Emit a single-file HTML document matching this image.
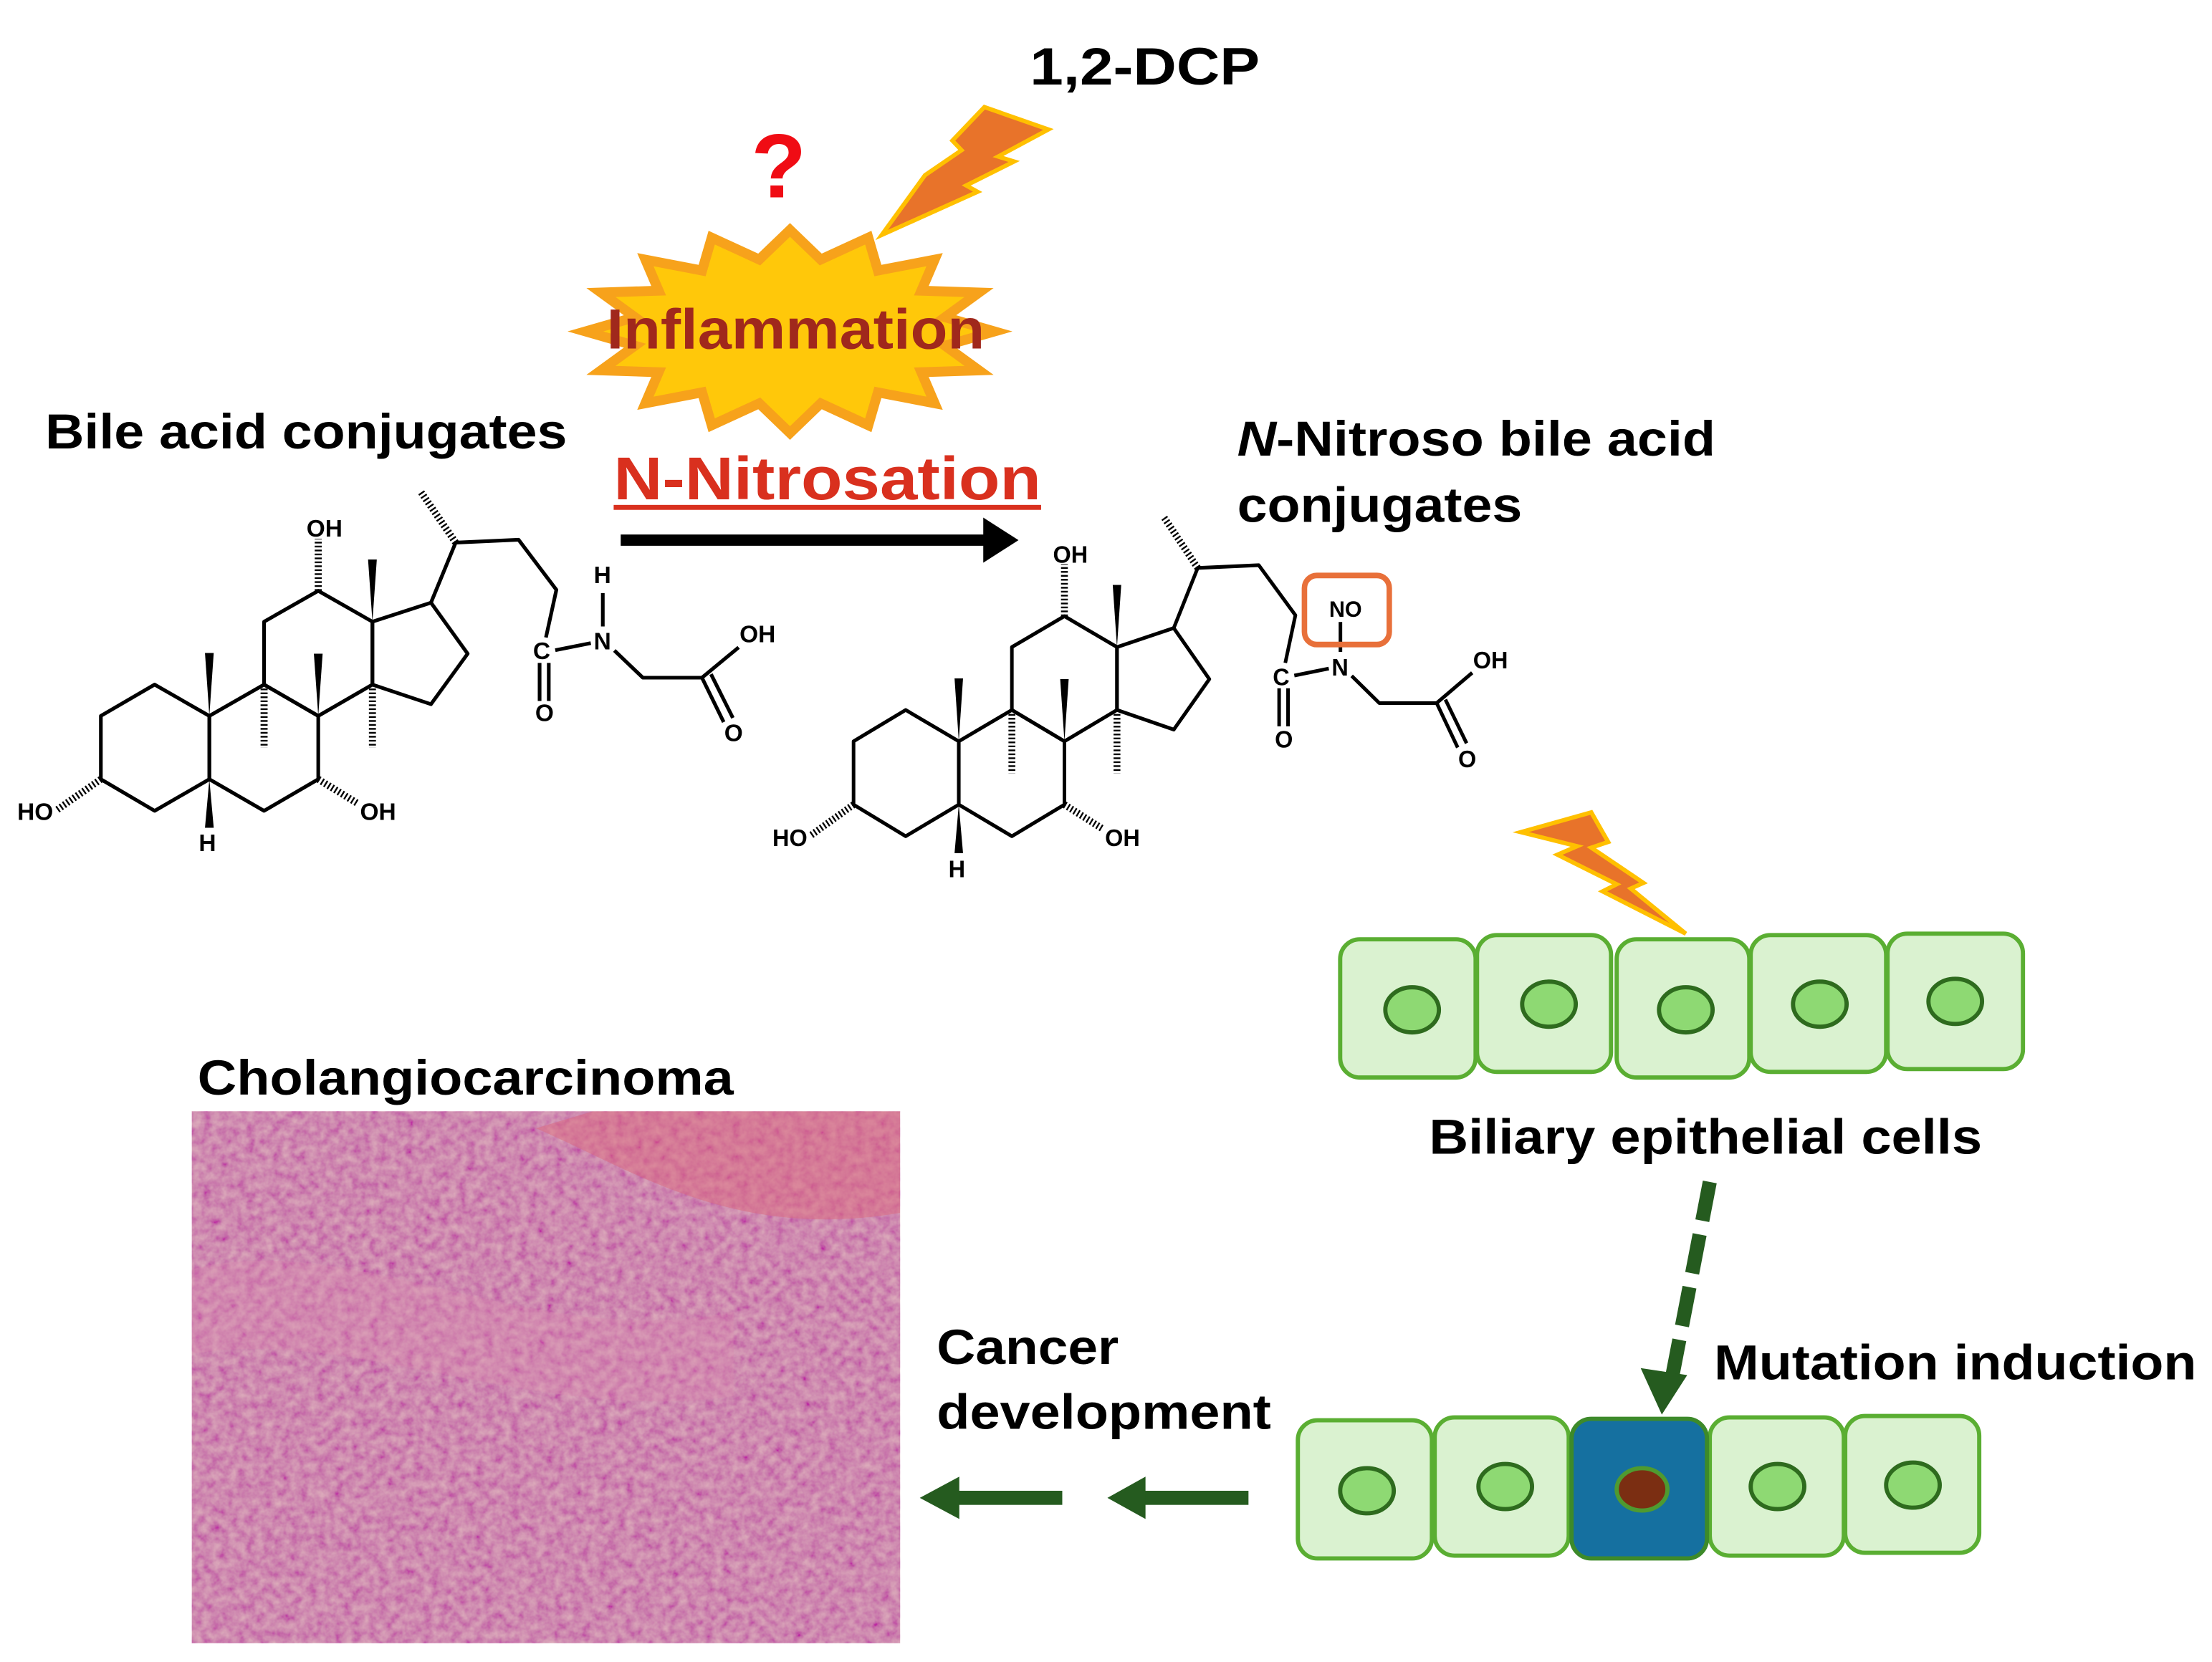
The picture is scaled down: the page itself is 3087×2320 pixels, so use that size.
<!DOCTYPE html>
<html><head><meta charset="utf-8"><style>
html,body{margin:0;padding:0;background:#fff}
svg{display:block}
text{font-family:"Liberation Sans",Arial,sans-serif;font-weight:bold}
</style></head><body>
<svg width="3087" height="2320" viewBox="0 0 1568 1178.4" xmlns="http://www.w3.org/2000/svg">
<defs>
<filter id="h" x="0" y="0" width="100%" height="100%">
<feTurbulence type="fractalNoise" baseFrequency="0.16" numOctaves="3" seed="5"/>
<feColorMatrix values="0.5 0 0 0 0.5  1.0 0 0 0 -0.1  0.35 0 0 0 0.42  0 0 0 0 1"/>
</filter>
<g id="mol">
<g fill="none" stroke="#000" stroke-width="2.6" stroke-linejoin="round">
<polygon points="71.5,507.6 109.6,485.4 148.4,507.6 148.4,552.5 109.6,574.9 71.5,552.5"/>
<polygon points="148.4,507.6 187.2,485.4 225.6,507.6 225.6,552.5 187.2,574.9 148.4,552.5"/>
<polygon points="187.2,485.4 187.2,440.8 225.6,418.9 264,440.8 264,485.4 225.6,507.6"/>
<polygon points="264,440.8 305.5,427.3 331.5,463.5 305.5,499.3 264,485.4"/>
<polyline points="305.5,427.3 323,384.7 367.6,382.7 394.4,418.2 387,452"/>
<line x1="393.6" y1="461" x2="418.8" y2="456"/>
<line x1="382.5" y1="470" x2="382.5" y2="497"/>
<line x1="389" y1="470" x2="389" y2="497"/>
<polyline points="435.5,461.2 455.7,480.5 497.6,480.5 523.6,459"/>
<line x1="497.6" y1="480.5" x2="513" y2="512"/>
<line x1="504" y1="478" x2="519.5" y2="509"/>
</g>
<g fill="#000">
<polygon points="148.4,507.6 145.3,463 151.5,463"/>
<polygon points="225.6,507.6 222.5,463.5 228.7,463.5"/>
<polygon points="264,440.8 260.9,396.7 267.1,396.7"/>
<polygon points="148.4,552.5 145.3,586.9 151.5,586.9"/>
</g>
<g stroke="#000" stroke-width="5" stroke-dasharray="1.2 1.6" fill="none">
<line x1="225.6" y1="418.9" x2="225.6" y2="382"/>
<line x1="187.2" y1="485.4" x2="187.2" y2="530.3"/>
<line x1="264" y1="485.4" x2="264" y2="530.3"/>
<line x1="71.5" y1="552.5" x2="40" y2="574.5"/>
<line x1="225.6" y1="552.5" x2="254" y2="570"/>
<line x1="323" y1="384.7" x2="298.5" y2="349"/>
</g>
<g font-size="17" text-anchor="middle" dominant-baseline="central">
<text x="230" y="375">OH</text>
<text x="384" y="462">C</text>
<text x="386" y="506">O</text>
<text x="427" y="455">N</text>
<text x="537" y="450">OH</text>
<text x="520" y="520">O</text>
<text x="25" y="576">HO</text>
<text x="147" y="598">H</text>
<text x="268" y="576">OH</text>
</g>
</g>
</defs>

<!-- molecule 1 -->
<use href="#mol"/>
<line x1="427.3" y1="420.5" x2="427.3" y2="444.2" stroke="#000" stroke-width="2.6"/>
<text x="427" y="408" font-size="17" text-anchor="middle" dominant-baseline="central">H</text>

<!-- molecule 2 -->
<g transform="translate(535.7,18) scale(0.97,1)">
<use href="#mol"/>
<line x1="427.3" y1="423" x2="427.3" y2="444.2" stroke="#000" stroke-width="2.6"/>
<rect x="401" y="390" width="62" height="49" rx="9" fill="none" stroke="#E8703A" stroke-width="4"/>
<text x="431" y="414" font-size="16" text-anchor="middle" dominant-baseline="central">NO</text>
</g>

<!-- titles -->
<text x="730" y="60" font-size="37" textLength="163" lengthAdjust="spacingAndGlyphs">1,2-DCP</text>
<text x="552" y="140" font-size="64" fill="#F00C14" text-anchor="middle">?</text>
<polygon points="697.8,75.9 743.2,91.8 707.5,111 718.9,114.5 684.9,131.5 693,136 625,166.6 655.7,124.2 681.6,106.5 675.1,99.7" fill="#E8732A" stroke="#FFC000" stroke-width="3" stroke-linejoin="miter"/>

<polygon fill="#FFC80A" stroke="#F7A21B" stroke-width="7" stroke-linejoin="miter" points="705,235 669.9,245.1 694,262.6 653.1,263.9 662.5,285.9 622.3,278.2 615.5,301.5 581.8,286 560,307 538.2,286 504.5,301.5 497.7,278.2 457.5,285.9 466.9,263.9 426,262.6 450.1,245.1 415,235 450.1,224.9 426,207.4 466.9,206.1 457.5,184.1 497.7,191.8 504.5,168.5 538.2,184 560,163 581.8,184 615.5,168.5 622.3,191.8 662.5,184.1 653.1,206.1 694,207.4 669.9,224.9"/>
<text x="430" y="247" font-size="40" fill="#A0281C" textLength="268" lengthAdjust="spacingAndGlyphs">Inflammation</text>

<text x="32" y="318" font-size="35" textLength="370" lengthAdjust="spacingAndGlyphs">Bile acid conjugates</text>
<text x="435" y="354" font-size="43" fill="#D9301E" textLength="303" lengthAdjust="spacingAndGlyphs">N-Nitrosation</text>
<rect x="435" y="358" width="303" height="3.5" fill="#D9301E"/>
<line x1="440" y1="383" x2="700" y2="383" stroke="#000" stroke-width="8"/>
<polygon points="722,383 697,367 697,399" fill="#000"/>

<text x="877" y="323" font-size="35" textLength="339" lengthAdjust="spacingAndGlyphs"><tspan font-style="italic">N</tspan>-Nitroso bile acid</text>
<text x="877" y="370" font-size="35" textLength="202" lengthAdjust="spacingAndGlyphs">conjugates</text>

<!-- second bolt -->
<polygon points="1078,590 1128,576 1140,597 1128,601 1165,626 1156,630 1195,662 1136,632 1146,627 1104,606 1118,600" fill="#E8732A" stroke="#FFC000" stroke-width="3"/>

<!-- top cells -->
<g stroke="#5AAE32" stroke-width="3" fill="#DAF2D0">
<rect x="950" y="666" width="96" height="98" rx="14"/>
<rect x="1047" y="663" width="95" height="97" rx="14"/>
<rect x="1146" y="666" width="94" height="98" rx="14"/>
<rect x="1241" y="663" width="96" height="97" rx="14"/>
<rect x="1338" y="662" width="96" height="96" rx="14"/>
</g>
<g stroke="#2E6B1E" stroke-width="3" fill="#8ED973">
<ellipse cx="1001" cy="716" rx="19" ry="16"/>
<ellipse cx="1098" cy="712" rx="19" ry="16"/>
<ellipse cx="1195" cy="716" rx="19" ry="16"/>
<ellipse cx="1290" cy="712" rx="19" ry="16"/>
<ellipse cx="1386" cy="710" rx="19" ry="16"/>
</g>
<text x="1013" y="818" font-size="35" textLength="392" lengthAdjust="spacingAndGlyphs">Biliary epithelial cells</text>

<!-- dashed arrow -->
<line x1="1212" y1="838" x2="1185" y2="978" stroke="#255B1F" stroke-width="10" stroke-dasharray="28 10"/>
<polygon points="1178,1003 1163,970 1196,975" fill="#255B1F"/>
<text x="1215" y="978" font-size="35" textLength="342" lengthAdjust="spacingAndGlyphs">Mutation induction</text>

<!-- bottom cells -->
<g stroke="#5AAE32" stroke-width="3" fill="#DAF2D0">
<rect x="920" y="1007" width="95" height="98" rx="14"/>
<rect x="1017" y="1005" width="95" height="98" rx="14"/>
<rect x="1212" y="1005" width="95" height="98" rx="14"/>
<rect x="1308" y="1004" width="95" height="97" rx="14"/>
</g>
<rect x="1114" y="1006" width="96" height="99" rx="14" fill="#1570A0" stroke="#3D8A2A" stroke-width="3"/>
<g stroke="#2E6B1E" stroke-width="3" fill="#8ED973">
<ellipse cx="969" cy="1057" rx="19" ry="16"/>
<ellipse cx="1067" cy="1054" rx="19" ry="16"/>
<ellipse cx="1260" cy="1054" rx="19" ry="16"/>
<ellipse cx="1356" cy="1053" rx="19" ry="16"/>
</g>
<ellipse cx="1164" cy="1056" rx="18" ry="15" fill="#7B2E12" stroke="#4F9A30" stroke-width="3"/>

<!-- left arrows -->
<rect x="808" y="1057" width="77" height="10" fill="#255B1F"/>
<polygon points="785,1062 812,1047 812,1077" fill="#255B1F"/>
<rect x="676" y="1057" width="77" height="10" fill="#255B1F"/>
<polygon points="652,1062 680,1047 680,1077" fill="#255B1F"/>

<text x="664" y="967" font-size="35" textLength="129" lengthAdjust="spacingAndGlyphs">Cancer</text>
<text x="664" y="1013" font-size="35" textLength="237" lengthAdjust="spacingAndGlyphs">development</text>

<text x="140" y="776" font-size="35" textLength="380" lengthAdjust="spacingAndGlyphs">Cholangiocarcinoma</text>
<rect x="136" y="788" width="502" height="377" fill="#B8608F"/>
<rect x="136" y="788" width="502" height="377" filter="url(#h)" opacity="0.55"/>
<path d="M380,800 C450,830 520,880 638,860 L638,788 L420,788 Z" fill="#DC6A7E" opacity="0.5"/>
<path d="M136,900 C250,870 380,960 520,930 L520,990 C380,1010 250,940 136,960 Z" fill="#D98AAE" opacity="0.3"/>
</svg>
</body></html>
